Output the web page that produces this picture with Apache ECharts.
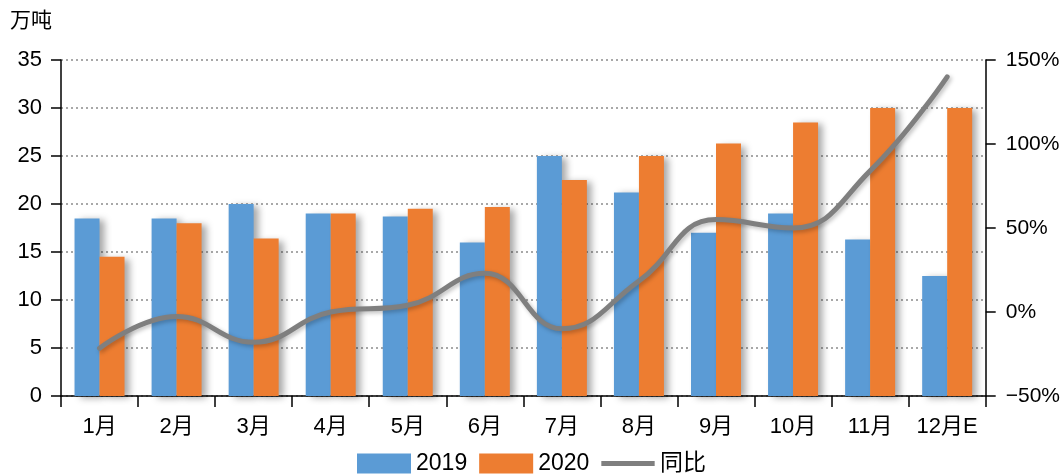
<!DOCTYPE html>
<html><head><meta charset="utf-8">
<script src="https://cdn.jsdelivr.net/npm/echarts@6/dist/echarts.min.js"></script>
<style>html,body{margin:0;padding:0;background:#fff}#c{width:1063px;height:475px}</style>
</head><body><div id="c"></div>
<script>
const categories = ['1月','2月','3月','4月','5月','6月','7月','8月','9月','10月','11月','12月E'];
const values2019 = [18.5, 18.5, 20.0, 19.0, 18.7, 16.0, 25.0, 21.2, 17.0, 19.0, 16.3, 12.5];
const values2020 = [14.5, 18.0, 16.4, 19.0, 19.5, 19.7, 22.5, 25.0, 26.3, 28.5, 30.0, 30.0];
const yoy = [-21.6, -2.7, -18.0, 0.0, 4.0, 23.0, -10.0, 18.5, 55.0, 50.0, 84.0, 140.0];
const leftTicks = {min: 0, max: 35, interval: 5};
const rightTicks = {min: -50, max: 150, interval: 50};

const font = '"Liberation Sans", Arial, "Noto Sans CJK SC", sans-serif';
const chart = echarts.init(document.getElementById('c'), null, {renderer: 'canvas'});
const barShadow = {shadowColor: 'rgba(0,0,0,0.35)', shadowBlur: 7, shadowOffsetX: 5, shadowOffsetY: 2};
const lineIcon = 'path://M0,8H56V13H0Z M0,0H0.05V0.05H0Z M55.95,20.95H56V21H55.95Z';
chart.setOption({
  animation: false,
  textStyle: {fontFamily: font, color: '#000'},
  grid: {left: 61, right: 76, top: 60, bottom: 79, containLabel: false},
  graphic: [{type: 'text', left: 10, top: 9, style: {text: '万吨', font: '21px "Noto Sans CJK SC", sans-serif', fill: '#000'}}],
  legend: {
    top: 447, left: 'center', itemWidth: 54, itemHeight: 20, itemGap: 12,
    textStyle: {fontSize: 23, fontFamily: font, color: '#000'},
    data: [{name: '2019', icon: 'rect'}, {name: '2020', icon: 'rect'}, {name: '同比', icon: lineIcon, itemStyle: {color: '#7F7F7F'}}]
  },
  xAxis: {
    type: 'category', data: categories,
    axisLine: {lineStyle: {color: '#000', width: 1.5}},
    axisTick: {show: true, interval: 0, length: 11, lineStyle: {color: '#000', width: 1.5}},
    axisLabel: {interval: 0, fontSize: 22, color: '#000', margin: 20, fontFamily: font}
  },
  yAxis: [{
    type: 'value', min: leftTicks.min, max: leftTicks.max, interval: leftTicks.interval,
    axisLine: {show: true, lineStyle: {color: '#000', width: 1.5}},
    axisTick: {show: true, length: 10, lineStyle: {color: '#000', width: 1.5}},
    axisLabel: {fontSize: 22, color: '#000', margin: 19, fontFamily: font},
    splitLine: {show: true, lineStyle: {color: '#a8a8a8', type: [2, 3], width: 2}}
  }, {
    type: 'value', min: rightTicks.min, max: rightTicks.max, interval: rightTicks.interval, position: 'right',
    axisLine: {show: true, lineStyle: {color: '#000', width: 1.5}},
    axisTick: {show: true, length: 10, lineStyle: {color: '#000', width: 1.5}},
    axisLabel: {fontSize: 21, color: '#000', margin: 20, fontFamily: font, formatter: v => (v < 0 ? '\u2212' + (-v) : v) + '%'},
    splitLine: {show: false}
  }],
  series: [
    {name: '2019', type: 'bar', data: values2019, barWidth: 25, barGap: '0%', itemStyle: Object.assign({color: '#5B9BD5'}, barShadow)},
    {name: '2020', type: 'bar', data: values2020, barWidth: 25, itemStyle: Object.assign({color: '#ED7D31'}, barShadow)},
    {name: '同比', type: 'line', yAxisIndex: 1, data: yoy, smooth: 0.45, symbol: 'none', z: 5,
     lineStyle: {color: '#7F7F7F', width: 5, cap: 'round', shadowColor: 'rgba(0,0,0,0.25)', shadowBlur: 4, shadowOffsetX: 2, shadowOffsetY: 2},
     itemStyle: {color: '#7F7F7F'}}
  ]
});
</script></body></html>
